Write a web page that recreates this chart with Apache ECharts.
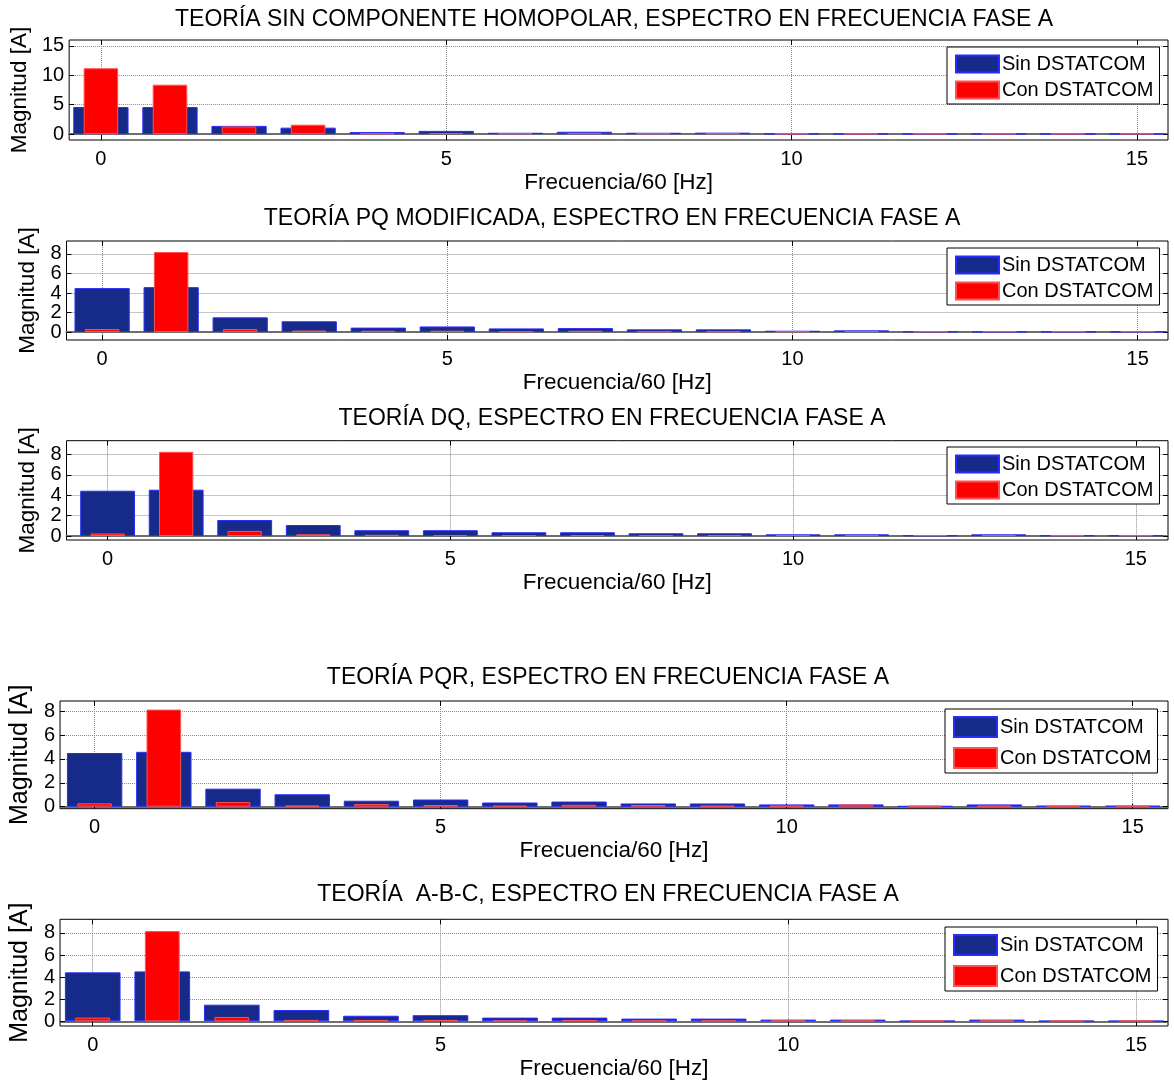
<!DOCTYPE html>
<html>
<head>
<meta charset="utf-8">
<script src="https://cdn.jsdelivr.net/npm/echarts@6/dist/echarts.min.js"></script>
<style>
  html, body { margin: 0; padding: 0; background: #ffffff; }
  #chart { width: 1174px; height: 1084px; }
</style>
</head>
<body>
<div id="chart"></div>
<script>
// Harmonic order (frequency / 60 Hz)
const harmonics = [0, 1, 2, 3, 4, 5, 6, 7, 8, 9, 10, 11, 12, 13, 14, 15];

// Phase A current spectrum magnitude [A], without / with DSTATCOM
const sinHomopolar = [4.6, 4.6, 1.4, 1.1, 0.35, 0.55, 0.23, 0.4, 0.23, 0.25, 0.08, 0.08, 0.05, 0.06, 0.05, 0.05];
const conHomopolar = [11.2, 8.4, 1.3, 1.6, 0.12, 0.17, 0.15, 0.17, 0.15, 0.15, 0.1, 0.1, 0.1, 0.1, 0.1, 0.1];

const sinPQ = [4.5, 4.6, 1.5, 1.1, 0.45, 0.57, 0.37, 0.4, 0.27, 0.27, 0.13, 0.17, 0.05, 0.03, 0.03, 0.03];
const conPQ = [0.3, 8.2, 0.3, 0.15, 0.13, 0.13, 0.07, 0.13, 0.07, 0.07, 0.07, 0.1, 0.07, 0.07, 0.07, 0.07];

const sinDQ = [4.45, 4.55, 1.57, 1.08, 0.57, 0.57, 0.37, 0.37, 0.27, 0.27, 0.17, 0.17, 0.07, 0.17, 0.07, 0.07];
const conDQ = [0.25, 8.27, 0.5, 0.17, 0.12, 0.1, 0.1, 0.1, 0.1, 0.1, 0.1, 0.1, 0.1, 0.1, 0.07, 0.07];

const sinPQR = [4.5, 4.6, 1.51, 1.04, 0.5, 0.6, 0.35, 0.43, 0.27, 0.27, 0.19, 0.19, 0.05, 0.19, 0.08, 0.08];
const conPQR = [0.28, 8.14, 0.39, 0.1, 0.22, 0.14, 0.08, 0.16, 0.14, 0.08, 0.08, 0.19, 0.08, 0.08, 0.08, 0.08];

const sinABC = [4.43, 4.52, 1.5, 1.02, 0.5, 0.55, 0.33, 0.33, 0.24, 0.24, 0.15, 0.15, 0.03, 0.15, 0.03, 0.03];
const conABC = [0.33, 8.17, 0.39, 0.12, 0.12, 0.12, 0.06, 0.12, 0.06, 0.06, 0.06, 0.06, 0.06, 0.06, 0.06, 0.06];

// Tick values
const xTickValues = [0, 5, 10, 15];
const yTicksHomopolar = [0, 5, 10, 15];
const yTicksSmall = [0, 2, 4, 6, 8];

// Texts
const titles = [
  'TEORÍA SIN COMPONENTE HOMOPOLAR, ESPECTRO EN FRECUENCIA FASE A',
  'TEORÍA PQ MODIFICADA, ESPECTRO EN FRECUENCIA FASE A',
  'TEORÍA DQ, ESPECTRO EN FRECUENCIA FASE A',
  'TEORÍA PQR, ESPECTRO EN FRECUENCIA FASE A',
  'TEORÍA  A-B-C, ESPECTRO EN FRECUENCIA FASE A'
];
const seriesNames = ['Sin DSTATCOM', 'Con DSTATCOM'];
const xAxisName = 'Frecuencia/60 [Hz]';
const yAxisName = 'Magnitud [A]';

// Panel layout: plot box [left, top, width, height], axis ranges, text positions
const panels = [
  { sin: sinHomopolar, con: conHomopolar, yTicks: yTicksHomopolar,
    box: [65, 40, 1103, 100], xr: [-0.46, 15.45], yr: [-1, 16],
    titleXY: [614, 20], yName: [36, 22.5], legend: [947, 47, 17, 6] },
  { sin: sinPQ, con: conPQ, yTicks: yTicksSmall,
    box: [66.5, 241, 1101.5, 99], xr: [-0.516, 15.44], yr: [-0.82, 9.33],
    titleXY: [612, 219], yName: [26, 22.5], legend: [947, 248, 17, 6] },
  { sin: sinDQ, con: conDQ, yTicks: yTicksSmall,
    box: [66.5, 440.7, 1101.5, 99.3], xr: [-0.60, 15.47], yr: [-0.39, 9.36],
    titleXY: [612, 419], yName: [26, 22.5], legend: [947, 447, 17, 6] },
  { sin: sinPQR, con: conPQR, yTicks: yTicksSmall,
    box: [57.7, 701, 1110.3, 107.7], xr: [-0.50, 15.51], yr: [-0.17, 8.86],
    titleXY: [608, 678], yName: [22, 25], legend: [945, 709, 20, 9] },
  { sin: sinABC, con: conABC, yTicks: yTicksSmall,
    box: [56.7, 919.3, 1111.3, 106.7], xr: [-0.47, 15.46], yr: [-0.43, 9.24],
    titleXY: [608, 895], yName: [22, 25], legend: [945, 927, 20, 9] }
];

const FONT = '"Liberation Sans", Arial, Helvetica, sans-serif';
const BLUE_FILL = '#162a89';
const BLUE_EDGE = '#2a2aff';
const RED_FILL = '#ff0000';
const RED_EDGE = '#ff5050';

const option = {
  animation: false,
  backgroundColor: '#ffffff',
  grid: [], xAxis: [], yAxis: [], series: [], legend: [], graphic: []
};

const tickIn = (values) => ({
  show: true, inside: true, length: 5, customValues: values,
  lineStyle: { color: '#000000', width: 1 }
});
const gridLine = { show: true, lineStyle: { color: '#8a8a8a', width: 1, type: 'dotted' } };
const tickLabel = (values, margin) => ({
  show: true, customValues: values, margin,
  showMinLabel: true, showMaxLabel: true, hideOverlap: false,
  color: '#000000', fontSize: 20, fontFamily: FONT
});
const hidden = { show: false };

panels.forEach((p, i) => {
  const [left, top, width, height] = p.box;
  option.grid.push({
    left, top, width, height, show: true,
    borderColor: '#000000', borderWidth: 1, backgroundColor: '#ffffff'
  });

  // bottom axis (labels, ticks, vertical grid)
  option.xAxis.push({
    type: 'value', gridIndex: i, position: 'bottom', min: p.xr[0], max: p.xr[1],
    name: xAxisName, nameLocation: 'middle', nameGap: 31,
    nameTextStyle: { color: '#000000', fontSize: 22.5, fontFamily: FONT },
    axisLine: { show: false, onZero: false },
    axisTick: tickIn(xTickValues), axisLabel: tickLabel(xTickValues, 9),
    splitLine: gridLine
  });
  // top axis (inner ticks; carries the "Con DSTATCOM" bars so they centre on their own width)
  option.xAxis.push({
    type: 'value', gridIndex: i, position: 'top', min: p.xr[0], max: p.xr[1],
    axisLine: { show: false, onZero: false },
    axisTick: tickIn(xTickValues), axisLabel: hidden, splitLine: hidden
  });
  // bar baseline at zero
  option.xAxis.push({
    type: 'value', gridIndex: i, position: 'bottom', min: p.xr[0], max: p.xr[1],
    axisLine: { show: true, onZero: true, onZeroAxisIndex: 3 * i,
      lineStyle: { color: '#6e6e6e', width: 2 } },
    axisTick: hidden, axisLabel: hidden, splitLine: hidden
  });

  // tick labels alternate between two left axes so tight spacing never thins them
  const labelsA = p.yTicks.filter((v, k) => k % 2 === 0);
  const labelsB = p.yTicks.filter((v, k) => k % 2 === 1);

  option.yAxis.push({
    type: 'value', gridIndex: i, position: 'left', min: p.yr[0], max: p.yr[1],
    name: yAxisName, nameLocation: 'middle', nameRotate: 90, nameGap: p.yName[0],
    nameTextStyle: { color: '#000000', fontSize: p.yName[1], fontFamily: FONT },
    axisLine: { show: false, onZero: false },
    axisTick: tickIn(p.yTicks), axisLabel: tickLabel(labelsA, 5),
    splitLine: gridLine
  });
  option.yAxis.push({
    type: 'value', gridIndex: i, position: 'right', min: p.yr[0], max: p.yr[1],
    axisLine: { show: false, onZero: false },
    axisTick: tickIn(p.yTicks), axisLabel: hidden, splitLine: hidden
  });
  option.yAxis.push({
    type: 'value', gridIndex: i, position: 'left', min: p.yr[0], max: p.yr[1],
    axisLine: { show: false, onZero: false },
    axisTick: hidden, axisLabel: tickLabel(labelsB, 5), splitLine: hidden
  });

  option.series.push({
    name: seriesNames[0], type: 'bar', z: 3,
    xAxisIndex: 3 * i, yAxisIndex: 3 * i, barWidth: '80%',
    itemStyle: { color: BLUE_FILL, borderColor: BLUE_EDGE, borderWidth: 1 },
    data: harmonics.map((h, k) => [h, p.sin[k]])
  });
  option.series.push({
    name: seriesNames[1], type: 'bar', z: 4,
    xAxisIndex: 3 * i + 1, yAxisIndex: 3 * i, barWidth: '50%',
    itemStyle: { color: RED_FILL, borderColor: RED_EDGE, borderWidth: 1 },
    data: harmonics.map((h, k) => [h, p.con[k]])
  });

  const [lx, ly, iconH, gap] = p.legend;
  option.legend.push({
    data: seriesNames, orient: 'vertical', left: lx, top: ly,
    itemWidth: 43, itemHeight: iconH, itemGap: gap, icon: 'rect',
    padding: [7, 6, 4, 8],
    borderColor: '#000000', borderWidth: 1, backgroundColor: '#ffffff',
    selectedMode: false,
    textStyle: { color: '#000000', fontSize: 20, fontFamily: FONT, padding: [0, 0, 0, -2] }
  });

  option.graphic.push({
    type: 'text', x: p.titleXY[0], y: p.titleXY[1], silent: true,
    style: {
      text: titles[i], fill: '#000000', fontSize: 23, fontFamily: FONT,
      align: 'center', verticalAlign: 'middle',
      textAlign: 'center', textVerticalAlign: 'middle'
    }
  });
});

const chart = echarts.init(document.getElementById('chart'), null, { renderer: 'canvas' });
chart.setOption(option);
</script>
</body>
</html>
